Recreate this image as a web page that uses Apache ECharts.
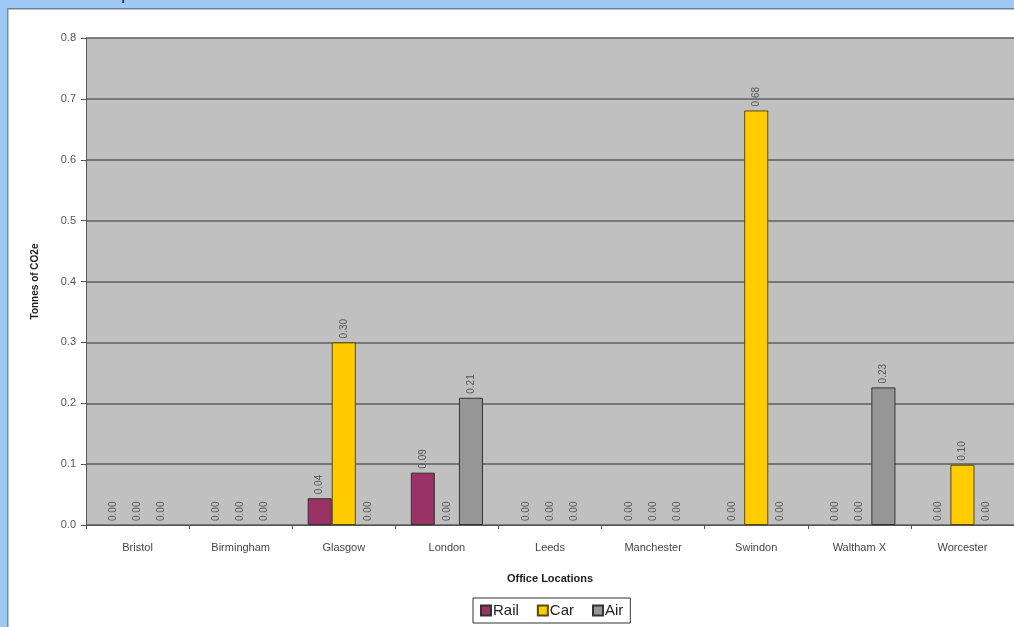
<!DOCTYPE html>
<html>
<head>
<meta charset="utf-8">
<script src="https://cdn.jsdelivr.net/npm/echarts@6/dist/echarts.min.js"></script>
<style>
html,body{margin:0;padding:0;background:#fff;}
#c{width:1014px;height:627px;}
</style>
</head>
<body>
<div id="c"></div>
<script>
var categories = ['Bristol','Birmingham','Glasgow','London','Leeds','Manchester','Swindon','Waltham X','Worcester'];
var railValues = [0, 0, 0.044, 0.086, 0, 0, 0, 0, 0];
var carValues  = [0, 0, 0.300, 0, 0, 0, 0.681, 0, 0.099];
var airValues  = [0, 0, 0, 0.209, 0, 0, 0, 0.226, 0];
var yTicks = { min: 0, max: 0.8, interval: 0.1 };

var chart = echarts.init(document.getElementById('c'), null, {renderer:'canvas'});
var labelCfg = {
  show: true,
  position: 'top',
  rotate: 90,
  align: 'left',
  verticalAlign: 'middle',
  distance: 4,
  fontFamily: 'Liberation Sans, Arial, sans-serif',
  fontSize: 10,
  color: '#555',
  formatter: function(p){ return p.value.toFixed(2); }
};
function mkSeries(name, data, color, border){
  return {
    name: name, type: 'bar',
    data: data.map(function(v){
      return v === 0 ? { value: v, itemStyle: { borderWidth: 0 } } : v;
    }),
    barGap: '0%', barCategoryGap: '30%',
    itemStyle: { color: color, borderColor: border, borderWidth: 1 },
    label: labelCfg,
    emphasis: { disabled: true }
  };
}
chart.setOption({
  animation: false,
  textStyle: { fontFamily: 'Liberation Sans, Arial, sans-serif' },
  graphic: [
    { type: 'rect', shape: {x:0, y:0, width:1014, height:8}, style: {fill:'#9FC9F5'}, z: 100 },
    { type: 'rect', shape: {x:0, y:8, width:1014, height:1.5}, style: {fill:'#6F7F90'}, z: 100 },
    { type: 'rect', shape: {x:0, y:0, width:7, height:627}, style: {fill:'#9FC9F5'}, z: 100 },
    { type: 'rect', shape: {x:7, y:8, width:1.5, height:619}, style: {fill:'#7C8C9C'}, z: 100 },
    { type: 'text', left: 52, top: -11, z: 101,
      style: { text: 'Carbon Impact of Travel for', fontSize: 14, fontWeight: 'bold', fill: '#2f3f50',
               fontFamily: 'Liberation Sans, Arial, sans-serif' } },
    { type: 'text', left: 415, top: -11, z: 101,
      style: { text: '2008', fontSize: 14, fontWeight: 'bold', fill: '#2f3f50',
               fontFamily: 'Liberation Sans, Arial, sans-serif' } }
  ],
  grid: {
    left: 86, top: 38, width: 930, height: 487,
    show: true, backgroundColor: '#C0C0C0', borderWidth: 0, containLabel: false
  },
  legend: {
    data: ['Rail','Car','Air'],
    left: 473, top: 598,
    itemWidth: 10, itemHeight: 10, itemGap: 18,
    borderColor: '#333', borderWidth: 1, padding: [5, 7, 5, 7],
    icon: 'rect',
    textStyle: { fontSize: 15, color: '#222', padding: [0,0,0,-3] },
    selectedMode: false
  },
  xAxis: {
    type: 'category',
    data: categories,
    name: 'Office Locations',
    nameLocation: 'middle',
    nameGap: 48,
    nameTextStyle: { fontSize: 11, fontWeight: 'bold', color: '#222' },
    axisLine: { show: true, lineStyle: { color: '#555', width: 1 } },
    axisTick: { show: true, length: 4, lineStyle: { color: '#555' } },
    axisLabel: { fontSize: 11, color: '#444', margin: 17 }
  },
  yAxis: {
    type: 'value',
    min: yTicks.min, max: yTicks.max, interval: yTicks.interval,
    name: 'Tonnes of CO2e',
    nameLocation: 'middle',
    nameGap: 46,
    nameTextStyle: { fontSize: 10, fontWeight: 'bold', color: '#222' },
    axisLine: { show: true, lineStyle: { color: '#555', width: 1 } },
    axisTick: { show: true, length: 5, lineStyle: { color: '#555' } },
    axisLabel: { fontSize: 11, color: '#555', margin: 10,
                 formatter: function(v){ return v.toFixed(1); } },
    splitLine: { show: true, lineStyle: { color: '#5E5E5E', width: 1.5 } }
  },
  series: [
    mkSeries('Rail', railValues, '#993366', '#333'),
    mkSeries('Car', carValues, '#FFCC00', '#5a4a00'),
    mkSeries('Air', airValues, '#969696', '#333')
  ]
});
</script>
</body>
</html>
